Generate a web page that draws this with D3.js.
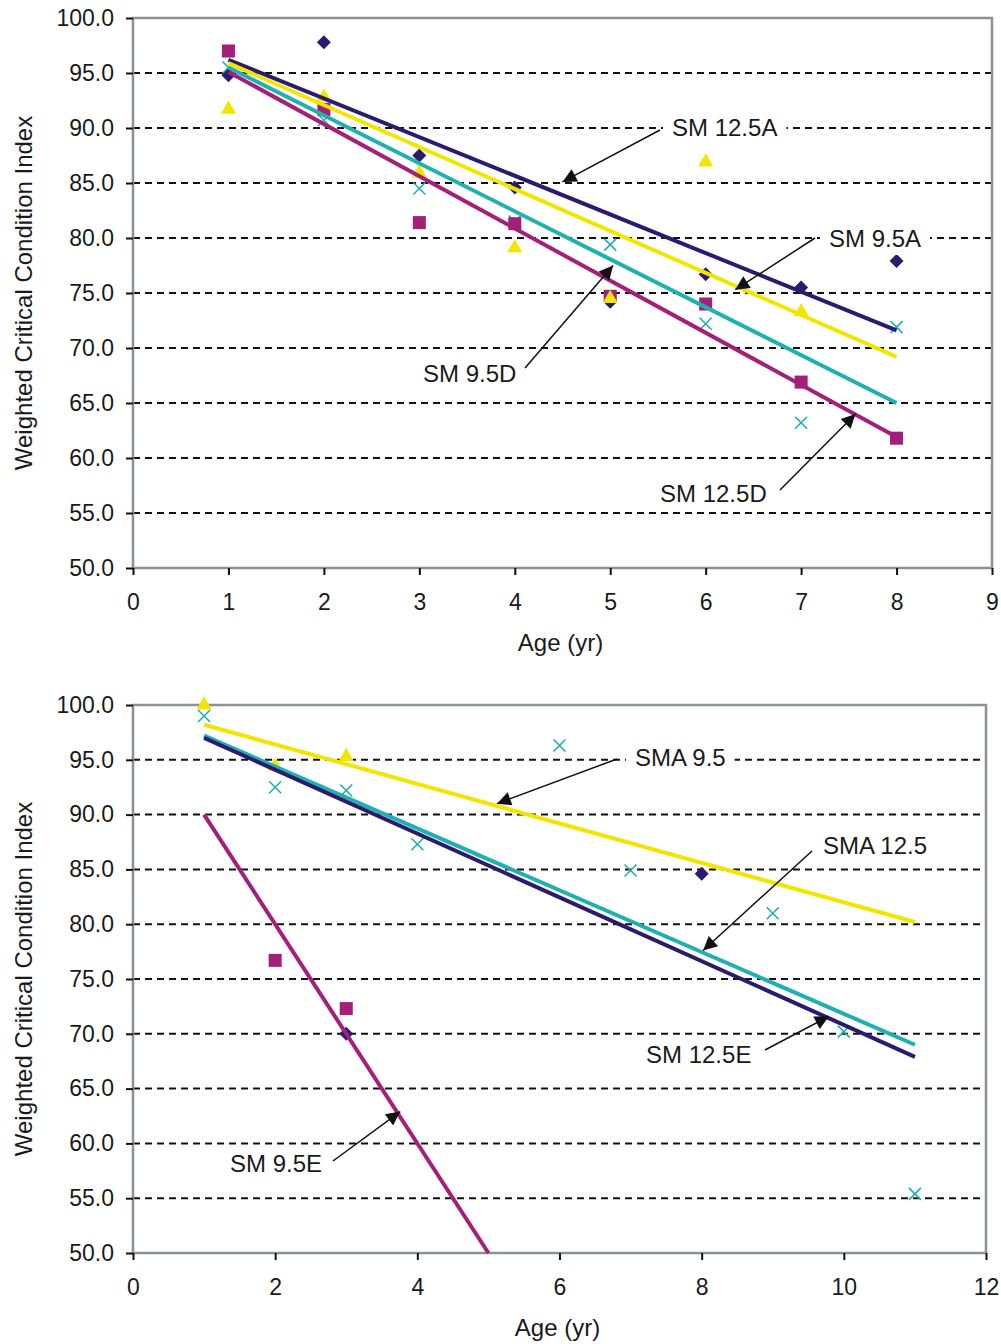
<!DOCTYPE html>
<html>
<head>
<meta charset="utf-8">
<script src="https://cdn.jsdelivr.net/npm/d3@7"></script>
<style>
  body { margin: 0; background: #fff; }
  svg { font-family: "Liberation Sans", Arial, sans-serif; }
</style>
</head>
<body>
<div id="chart"></div>
<script>
// ---- top panel data ----
const topAges = [1, 2, 3, 4, 5, 6, 7, 8];
const topSM125A = [94.8, 97.8, 87.5, 84.6, 74.2, 76.7, 75.5, 77.9];
const topSM95A = [91.7, 92.8, 85.9, 79.1, 74.5, 86.9, 73.3, null];
const topSM95D = [95.5, 90.7, 84.5, 81.5, 79.4, 72.2, 63.2, 71.9];
const topSM125D = [97.0, 91.7, 81.4, 81.3, 74.7, 74.0, 66.9, 61.8];
// trend lines: [x0, y0, x1, y1]
const topTrend125A = [1, 96.2, 8, 71.6];
const topTrend95A = [1, 95.9, 8, 69.2];
const topTrend95D = [1, 95.5, 8, 65.0];
const topTrend125D = [1, 95.1, 8, 61.9];

// ---- bottom panel data ----
const botAgesSMA95 = [1, 2, 3];
const botSMA95 = [100.0, 94.4, 95.3];
const botAgesSMA125 = [1, 2, 3, 4, 6, 7, 9, 10, 11];
const botSMA125 = [99.0, 92.5, 92.2, 87.3, 96.3, 84.9, 81.0, 70.2, 55.4];
const botAgesSM125E = [3, 8];
const botSM125E = [70.0, 84.6];
const botAgesSM95E = [2, 3];
const botSM95E = [76.7, 72.3];
const botTrendSMA95 = [1, 98.2, 11, 80.2];
const botTrendSMA125 = [1, 97.2, 11, 69.0];
const botTrendSM125E = [1, 97.0, 11, 67.9];
const botTrendSM95E = [1, 90.0, 5, 50.0];

const yTicks = [50, 55, 60, 65, 70, 75, 80, 85, 90, 95, 100];
const topXTicks = [0, 1, 2, 3, 4, 5, 6, 7, 8, 9];
const botXTicks = [0, 2, 4, 6, 8, 10, 12];

const navy = "#2b1b6e", yellow = "#f2e600", teal = "#1fb0b0", magenta = "#a3207a";

const svg = d3.select("#chart").append("svg")
  .attr("width", 1001).attr("height", 1344);

const defs = svg.append("defs");
defs.append("marker")
  .attr("id", "arrow")
  .attr("viewBox", "0 0 10 10")
  .attr("refX", 10).attr("refY", 5)
  .attr("markerUnits", "userSpaceOnUse")
  .attr("markerWidth", 19).attr("markerHeight", 14)
  .attr("orient", "auto")
  .append("path").attr("d", "M0,0 L10,5 L0,10 Z").attr("fill", "#111");

function drawPanel(p) {
  const x = d3.scaleLinear().domain(p.xDomain).range([p.left, p.right]);
  const y = d3.scaleLinear().domain([50, 100]).range([p.bottom, p.top]);
  const g = svg.append("g");

  // dashed gridlines
  g.selectAll(".grid")
    .data(yTicks.filter(t => t > 50 && t < 100))
    .join("line")
    .attr("x1", p.left).attr("x2", p.right)
    .attr("y1", d => y(d)).attr("y2", d => y(d))
    .attr("stroke", "#111").attr("stroke-width", 2)
    .attr("stroke-dasharray", "7,5");

  // frame
  g.append("rect")
    .attr("x", p.left).attr("y", p.top)
    .attr("width", p.right - p.left).attr("height", p.bottom - p.top)
    .attr("fill", "none").attr("stroke", "#8a9295").attr("stroke-width", 2.5);

  // y axis
  const yAxis = d3.axisLeft(y).tickValues(yTicks).tickFormat(d3.format(".1f"))
    .tickSize(7).tickPadding(12);
  const ya = g.append("g").attr("transform", `translate(${p.left},0)`).call(yAxis);
  ya.select(".domain").remove();
  ya.selectAll(".tick line").attr("stroke", "#111").attr("stroke-width", 2);
  ya.selectAll(".tick text").attr("font-size", 23).attr("fill", "#1a1a1a")
    .attr("font-family", "Liberation Sans, Arial, sans-serif");

  // x axis
  const xAxis = d3.axisBottom(x).tickValues(p.xTicks).tickFormat(d3.format("d"))
    .tickSize(7).tickPadding(19);
  const xa = g.append("g").attr("transform", `translate(0,${p.bottom})`).call(xAxis);
  xa.select(".domain").remove();
  xa.selectAll(".tick line").attr("stroke", "#111").attr("stroke-width", 2);
  xa.selectAll(".tick text").attr("font-size", 23).attr("fill", "#1a1a1a")
    .attr("font-family", "Liberation Sans, Arial, sans-serif");

  // axis titles
  g.append("text")
    .attr("x", (p.left + p.right) / 2 - 2).attr("y", p.bottom + 83)
    .attr("text-anchor", "middle").attr("font-size", 24).attr("fill", "#1a1a1a")
    .text("Age (yr)");
  g.append("text")
    .attr("transform", `translate(32,${(p.top + p.bottom) / 2}) rotate(-90)`)
    .attr("text-anchor", "middle").attr("font-size", 24).attr("fill", "#1a1a1a")
    .text("Weighted Critical Condition Index");

  // markers
  const pts = (ages, vals) => ages.map((a, i) => [a, vals[i]]).filter(d => d[1] != null);
  p.series.forEach(s => {
    const data = pts(s.ages, s.values);
    const sel = g.selectAll(null).data(data).join("g")
      .attr("transform", d => `translate(${x(d[0])},${y(d[1])})`);
    if (s.shape === "cross") {
      sel.append("path").attr("d", "M-6,-6L6,6M-6,6L6,-6")
        .attr("stroke", s.color).attr("stroke-width", 1.6).attr("fill", "none");
    } else if (s.shape === "diamond") {
      sel.append("path").attr("d", "M0,-7L7,0L0,7L-7,0Z").attr("fill", s.color);
    } else {
      const sym = { square: d3.symbolSquare, triangle: d3.symbolTriangle }[s.shape];
      const size = { square: 170, triangle: 100 }[s.shape];
      sel.append("path").attr("d", d3.symbol(sym, size)()).attr("fill", s.color);
    }
  });

  // trend lines
  p.series.forEach(s => {
    const t = s.trend;
    g.append("line")
      .attr("x1", x(t[0])).attr("y1", y(t[1]))
      .attr("x2", x(t[2])).attr("y2", y(t[3]))
      .attr("stroke", s.color).attr("stroke-width", 4);
  });

  // callout labels
  p.labels.forEach(l => {
    const lg = g.append("g");
    const txt = lg.append("text").attr("x", l.tx).attr("y", l.ty)
      .attr("font-size", 24).attr("fill", "#1a1a1a").text(l.text);
    const bb = txt.node().getBBox();
    lg.insert("rect", "text")
      .attr("x", bb.x - 9).attr("y", l.ty - 22)
      .attr("width", bb.width + 18).attr("height", 30)
      .attr("fill", "#fff");
    g.append("line")
      .attr("x1", l.from[0]).attr("y1", l.from[1])
      .attr("x2", x(l.to[0])).attr("y2", y(l.to[1]))
      .attr("stroke", "#111").attr("stroke-width", 1.5)
      .attr("marker-end", "url(#arrow)");
  });
}

drawPanel({
  left: 133, right: 992, top: 18, bottom: 568,
  xDomain: [0, 9], xTicks: topXTicks,
  series: [
    { ages: topAges, values: topSM95D, shape: "cross", color: teal, trend: topTrend95D },
    { ages: topAges, values: topSM125A, shape: "diamond", color: navy, trend: topTrend125A },
    { ages: topAges, values: topSM125D, shape: "square", color: magenta, trend: topTrend125D },
    { ages: topAges, values: topSM95A, shape: "triangle", color: yellow, trend: topTrend95A }
  ],
  labels: [
    { text: "SM 12.5A", tx: 672, ty: 136, from: [660, 130], to: [4.5, 85.1] },
    { text: "SM 9.5A", tx: 829, ty: 247, from: [815, 238], to: [6.31, 75.3] },
    { text: "SM 9.5D", tx: 423, ty: 382, from: [525, 368], to: [5.03, 77.5] },
    { text: "SM 12.5D", tx: 660, ty: 502, from: [780, 490], to: [7.57, 64.0] }
  ]
});

drawPanel({
  left: 133, right: 986, top: 705, bottom: 1253,
  xDomain: [0, 12], xTicks: botXTicks,
  series: [
    { ages: botAgesSMA125, values: botSMA125, shape: "cross", color: teal, trend: botTrendSMA125 },
    { ages: botAgesSM95E, values: botSM95E, shape: "square", color: magenta, trend: botTrendSM95E },
    { ages: botAgesSM125E, values: botSM125E, shape: "diamond", color: navy, trend: botTrendSM125E },
    { ages: botAgesSMA95, values: botSMA95, shape: "triangle", color: yellow, trend: botTrendSMA95 }
  ],
  labels: [
    { text: "SMA 9.5", tx: 635, ty: 766, from: [617, 759], to: [5.12, 91.0] },
    { text: "SMA 12.5", tx: 823, ty: 854, from: [812, 851], to: [8.02, 77.6] },
    { text: "SM 12.5E", tx: 646, ty: 1063, from: [765, 1050], to: [9.79, 71.6] },
    { text: "SM 9.5E", tx: 230, ty: 1172, from: [333, 1161], to: [3.76, 62.9] }
  ]
});
</script>
</body>
</html>
